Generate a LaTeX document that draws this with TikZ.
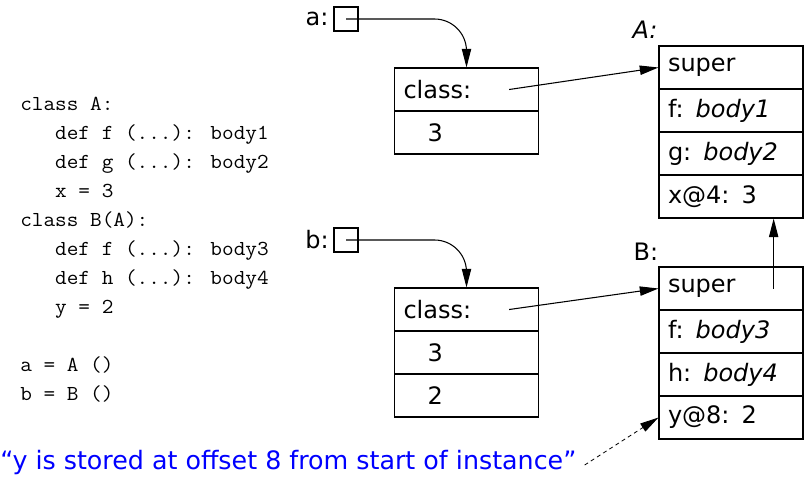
\documentclass[tikz,border=0pt]{standalone}
\usepackage{fontspec}
\setmainfont{DejaVu Sans}
\usepackage{graphicx}
\usetikzlibrary{arrows.meta}

\begin{document}
\begin{tikzpicture}[x=0.75pt,y=-0.75pt,
		cell/.style = {draw, line width=0.8pt, minimum height=32.25pt, text width=94.5pt, inner xsep=6.75pt, align=left},
		ptr/.style = {draw, line width=0.8pt, minimum size=18pt, inner sep=0pt},
		arr/.style = {line width=0.8pt, -{Triangle[length=14pt,width=7pt]}},
		every node/.style = {font=\fontsize{18}{20}\selectfont}]
					\useasboundingbox (0,0) rectangle (808,480);
					\node[anchor=north west, inner sep=0pt] (code) at (20,90) {\scalebox{1.06}[1]{\fontsize{16}{21.75}\selectfont\ttfamily\begin{tabular}{@{}l@{}}
						class A:\\
						\phantom{xxx}def f (...): body1\\
						\phantom{xxx}def g (...): body2\\
						\phantom{xxx}x = 3\\
						class B(A):\\
						\phantom{xxx}def f (...): body3\\
						\phantom{xxx}def h (...): body4\\
						\phantom{xxx}y = 2\\
						\\
						a = A ()\\
						b = B ()
					\end{tabular}}};
					\node[ptr] (a) at (346,19) {};
					\node (alab) at (317,19) {a:};
					\node[ptr] (b) at (346,240) {};
					\node (blab) at (317,240) {b:};
					\node[cell] (ia1) at (466.5,89.5) {class:};
					\node[cell] (ia2) at (466.5,132.5) {\quad 3};
					\node[cell] (ib1) at (466.5,309.5) {class:};
					\node[cell] (ib2) at (466.5,352.5) {\quad 3};
					\node[cell] (ib3) at (466.5,395.5) {\quad 2};
					\node (Alab) at (645,30) {\textit{A:}};
					\node[cell] (A1) at (731,67.5) {super};
					\node[cell] (A2) at (731,110.5) {f: \textit{body1}};
					\node[cell] (A3) at (731,153.5) {g: \textit{body2}};
					\node[cell] (A4) at (731,196.5) {x@4: 3};
					\node (Blab) at (646,252) {B:};
					\node[cell] (B1) at (731,288.5) {super};
					\node[cell] (B2) at (731,331.5) {f: \textit{body3}};
					\node[cell] (B3) at (731,374.5) {h: \textit{body4}};
					\node[cell] (B4) at (731,417.5) {y@8: 2};
					\node[anchor=base west, inner sep=0pt, text=blue, font=\fontsize{19}{21}\selectfont] (note) at (0,469) {“y is stored at offset 8 from start of instance”};
					\draw[arr, rounded corners=24pt] (a.center) -| (ia1.north);
					\draw[arr, rounded corners=24pt] (b.center) -| (ib1.north);
					\draw[arr] ([xshift=32pt]ia1.center) -- (A1.west);
					\draw[arr] ([xshift=32pt]ib1.center) -- (B1.west);
					\draw[arr] ([xshift=32pt]B1.center) -- ([xshift=32pt]A4.south);
					\draw[arr, line width=0.6pt, dash pattern=on 3pt off 2.5pt] ([xshift=6pt,yshift=3pt]note.base east) -- (B4.west);
				\end{tikzpicture}
\end{document}
